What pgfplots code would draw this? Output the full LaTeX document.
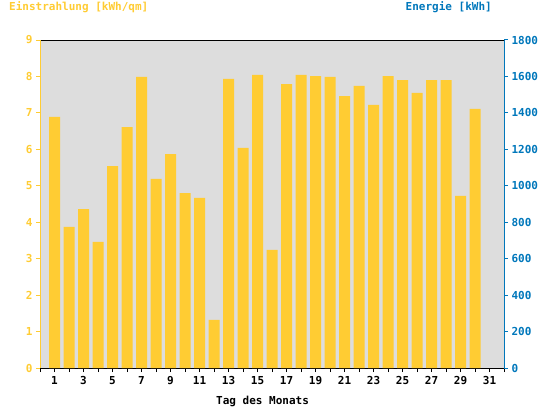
\documentclass[border=0pt]{standalone}
\usepackage{fontspec}
\setmainfont{DejaVu Sans Mono}
\usepackage{pgfplots}
\pgfplotsset{compat=1.18}
\definecolor{sunY}{HTML}{FFCC33}
\definecolor{sunB}{HTML}{0077BB}
\definecolor{bgG}{HTML}{DDDDDD}
\newcommand\pxfont{\fontsize{11}{13}\selectfont\bfseries}
\pgfplotstableread{
day val
1 6.89
2 3.87
3 4.36
4 3.46
5 5.54
6 6.61
7 7.99
8 5.19
9 5.87
10 4.80
11 4.67
12 1.32
13 7.93
14 6.04
15 8.04
16 3.24
17 7.79
18 8.04
19 8.01
20 7.99
21 7.46
22 7.74
23 7.22
24 8.01
25 7.90
26 7.55
27 7.90
28 7.90
29 4.72
30 7.11
}\dataA
\begin{document}
\begin{tikzpicture}[x=1pt,y=1pt]
\path[use as bounding box] (0,0) rectangle (544,408);
\begin{axis}[
  at={(40pt,40pt)}, anchor=south west, scale only axis,
  width=464pt, height=328pt,
  xmin=0, xmax=32, ymin=0, ymax=9,
  axis background/.style={fill=bgG},
  separate axis lines,
  x axis line style={black, line width=1pt},
  y axis line style={sunY, line width=1pt},
  xtick={0,...,32},
  xticklabels={,1,,3,,5,,7,,9,,11,,13,,15,,17,,19,,21,,23,,25,,27,,29,,31,},
  ytick={0,...,9},
  xtick pos=left, ytick pos=left,
  tick align=outside,
  major tick length=4pt,
  x tick style={black, line width=1pt},
  y tick style={sunY, line width=1pt},
  xticklabel style={font=\pxfont, text=black, yshift=-1pt},
  yticklabel style={font=\pxfont, text=sunY},
  /pgf/number format/assume math mode=true,
  ybar, bar width=11pt,
]
\addplot[fill=sunY, draw=none] table[x=day, y=val] {\dataA};
\end{axis}
\begin{axis}[
  at={(40pt,40pt)}, anchor=south west, scale only axis,
  width=464pt, height=328pt,
  xmin=0, xmax=32, ymin=0, ymax=1800,
  axis x line=none, axis y line*=right,
  y axis line style={sunB, line width=1pt},
  ytick={0,200,...,1800},
  tick align=outside,
  major tick length=4pt,
  y tick style={sunB, line width=1pt},
  yticklabel style={font=\pxfont, text=sunB},
  scaled y ticks=false,
  /pgf/number format/assume math mode=true,
  /pgf/number format/1000 sep={},
]
\end{axis}
\node[anchor=base west, text=sunY, font=\pxfont, inner sep=0] at (9,397.5) {Einstrahlung [kWh/qm]};
\node[anchor=base east, text=sunB, font=\pxfont, inner sep=0] at (492,397.5) {Energie [kWh]};
\node[anchor=base west, text=black, font=\pxfont, inner sep=0] at (216,3.7) {Tag des Monats};
\end{tikzpicture}
\end{document}
